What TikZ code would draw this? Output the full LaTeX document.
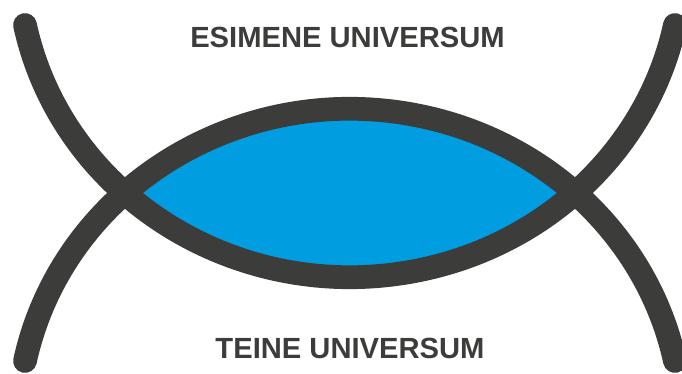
\documentclass[tikz,border=0pt]{standalone}
\usepackage{fontspec}
\setmainfont{Liberation Sans}
\definecolor{lensblue}{HTML}{009DE0}
\definecolor{arcgray}{HTML}{3C3C3B}

\begin{document}
\begin{tikzpicture}[arcline/.style={draw=arcgray, line width=13.5pt, line cap=round},
    unitext/.style={font=\bfseries\fontsize{16.6}{19}\selectfont, text=arcgray}]
\useasboundingbox (-7.00,-3.62) rectangle (6.64,3.86);
\coordinate (lo) at (0,-4.66);
\coordinate (hi) at (0,4.66);
\coordinate (archL) at (-6.50,-3.36);
\coordinate (cupL) at (-6.50,3.36);
\begin{scope}
\clip (hi) ellipse[x radius=6.64, y radius=6.34];
\fill[lensblue] (lo) ellipse[x radius=6.64, y radius=6.34];
\end{scope}
\draw[arcline] (archL) arc[start angle=168.2, end angle=11.8, x radius=6.64, y radius=6.34];
\draw[arcline] (cupL) arc[start angle=191.8, end angle=348.2, x radius=6.64, y radius=6.34];
\node[unitext] (first) at (-0.05,3.11) {ESIMENE UNIVERSUM};
\node[unitext] (second) at (0,-3.10) {TEINE UNIVERSUM};
\end{tikzpicture}
\end{document}
